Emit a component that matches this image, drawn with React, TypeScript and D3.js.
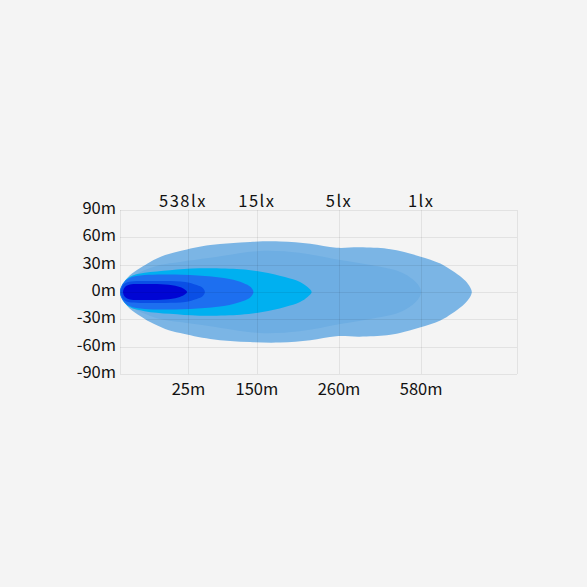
import React from 'react';
import * as d3 from 'd3';

// axis ticks (position units along the beam, and labels)
const xTickPos = [50, 100, 160, 220];
const xTickLabels = ['25m', '150m', '260m', '580m'];
const luxLabelPos = [46, 100, 160, 220];
const luxLabels = ['538lx', '15lx', '5lx', '1lx'];
const yTicks = [90, 60, 30, 0, -30, -60, -90];

// beam profiles: [distance position, half width in metres]
const lux1: [number, number][] = [[0,0],[3,10.5],[7,18],[15,26.5],[22,33],[33,40.5],[44,45],[66,51.5],[95,55],[117,55.5],[139,53],[158,48.5],[175,49],[195,47.5],[204.5,45],[219,39],[234,31.2],[242.5,23.5],[250,15.3],[254.2,8.8],[257,0]];
const lux5: [number, number][] = [[0,0],[3,9.5],[7,15.5],[15,22],[29,29.5],[44,33],[66,37.5],[102,45],[131,43],[161,35],[183,29.5],[203,23],[212,16],[217.5,8.5],[220,0]];
const lux15: [number, number][] = [[0,0],[2,9],[7,16.5],[18,21],[36.5,24],[58,26],[88,25],[104,22],[120.5,16.5],[131.5,11],[137,5.5],[140,0]];
const luxMid: [number, number][] = [[0,0],[2,9],[7,15.5],[18,18.6],[40,19.2],[62,17.5],[80,14.2],[90,10],[95.5,5.5],[97.5,0]];
const luxHigh: [number, number][] = [[0.7,0],[2.2,7.7],[6,11],[15,12],[33,12],[47.5,11],[56,7.7],[60.5,4.4],[62,0]];
const lux538: [number, number][] = [[2.2,0],[3.7,5.5],[7.3,8.2],[18,8.8],[33,8.2],[42.4,6],[46.8,3.3],[49,0]];

const layers = [
  { data: lux1, color: '#7bb5e5' },
  { data: lux5, color: '#6eaee3' },
  { data: lux15, color: '#00b0f0' },
  { data: luxMid, color: '#1d6ff0' },
  { data: luxHigh, color: '#0a4fe6' },
  { data: lux538, color: '#0005d4' },
];

const W = 587, H = 587;
const margin = { left: 120, right: 70, top: 210, bottom: 213 };

export default function App() {
  const x = d3.scaleLinear().domain([0, 290]).range([margin.left, W - margin.right]);
  const y = d3.scaleLinear().domain([-90, 90]).range([H - margin.bottom, margin.top]);
  const line = d3.line<[number, number]>()
    .x(d => x(d[0]))
    .y(d => y(d[1]))
    .curve(d3.curveCatmullRomClosed.alpha(0.5));

  const outline = (data: [number, number][]) => {
    const top = data.map(d => [d[0], d[1]] as [number, number]);
    const bottom = data.slice(1, -1).reverse().map(d => [d[0], -d[1]] as [number, number]);
    return line(top.concat(bottom)) || '';
  };

  const font = '"Noto Sans CJK SC", "Noto Sans", sans-serif';
  const vLines = [0, ...xTickPos, 290];

  return (
    <div style={{ position: 'fixed', left: 0, top: 0, width: W, height: H }}>
      <svg width={W} height={H} style={{ display: 'block' }}>
        <rect x={0} y={0} width={W} height={H} fill="#f4f4f4" />
        {layers.map((l, i) => (
          <path key={i} d={outline(l.data)} fill={l.color} />
        ))}
        <g stroke="rgba(0,0,0,0.07)" strokeWidth={1}>
          {yTicks.map(t => (
            <line key={'h' + t} x1={x(0)} x2={x(290)} y1={Math.round(y(t)) + 0.5} y2={Math.round(y(t)) + 0.5} />
          ))}
          {vLines.map(t => (
            <line key={'v' + t} y1={y(90)} y2={y(-90)} x1={Math.round(x(t)) + 0.5} x2={Math.round(x(t)) + 0.5} />
          ))}
        </g>
        <g fontFamily={font} fontSize={16.5} fill="#111">
          {yTicks.map(t => (
            <text key={'yl' + t} x={x(0) - 4} y={y(t) - 2} dy="0.36em" textAnchor="end">{t + 'm'}</text>
          ))}
          {xTickPos.map((p, i) => (
            <text key={'xl' + i} x={x(p)} y={y(-90) + 21} textAnchor="middle">{xTickLabels[i]}</text>
          ))}
          {luxLabelPos.map((p, i) => (
            <text key={'lx' + i} x={x(p)} y={y(90) - 3} textAnchor="middle" letterSpacing={1.5}>{luxLabels[i]}</text>
          ))}
        </g>
      </svg>
    </div>
  );
}
